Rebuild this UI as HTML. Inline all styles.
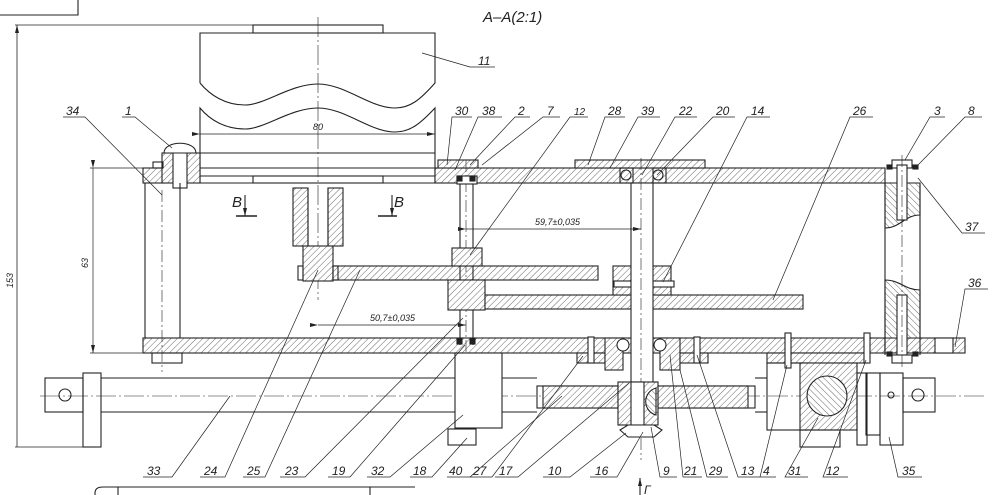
<!DOCTYPE html>
<html><head><meta charset="utf-8"><style>
html,body{margin:0;padding:0;background:#fff;}
svg{display:block;}
text{font-family:"Liberation Sans",sans-serif;font-style:italic;fill:#222;}
</style></head><body>
<svg width="1000" height="495" viewBox="0 0 1000 495" xmlns="http://www.w3.org/2000/svg">
<defs>
<pattern id="h" patternUnits="userSpaceOnUse" width="4.5" height="4.5" patternTransform="rotate(45)">
<rect width="5" height="5" fill="#fff"/><line x1="0" y1="0" x2="0" y2="5" stroke="#444" stroke-width="0.8"/>
</pattern>
<pattern id="h2" patternUnits="userSpaceOnUse" width="4.5" height="4.5" patternTransform="rotate(-45)">
<rect width="5" height="5" fill="#fff"/><line x1="0" y1="0" x2="0" y2="5" stroke="#444" stroke-width="0.8"/>
</pattern>
<marker id="a" markerWidth="8" markerHeight="6" refX="8" refY="3" orient="auto" markerUnits="userSpaceOnUse"><path d="M0,1 L8,3 L0,5 Z" fill="#222"/></marker>
</defs>
<g stroke="#222" stroke-width="1.1" fill="none">
<!-- title box -->
<polyline points="0,15 78,15 78,0"/>
<!-- 153 dimension -->
<line x1="15" y1="25" x2="255" y2="25" stroke-width="0.8"/>
<line x1="17" y1="447" x2="17" y2="25" stroke-width="0.8" marker-end="url(#a)"/>
<line x1="15" y1="447" x2="100" y2="447" stroke-width="0.8"/>
<!-- part 11 -->
<rect x="253" y="25" width="130" height="8"/>
<path d="M200,83 V33 H435 V83 C420,100 410,108 395,108 C370,108 345,84 318,84 C290,84 265,105 245,105 C225,105 210,95 200,83"/>
<path d="M200,183 V108 C210,120 225,129 245,129 C265,129 290,108 318,108 C345,108 370,132 395,132 C410,132 420,124 435,108 V183"/>
<line x1="318" y1="17" x2="318" y2="300" stroke-width="0.6" stroke-dasharray="20,3,2,3"/>
<!-- 80 dim -->
<line x1="200" y1="134" x2="435" y2="134" stroke-width="0.7" marker-start="url(#a)" marker-end="url(#a)"/>
<line x1="200" y1="153" x2="435" y2="153"/>
<line x1="165" y1="168" x2="435" y2="168"/>
<line x1="200" y1="176" x2="435" y2="176"/>
<line x1="200" y1="183" x2="435" y2="183"/>
<rect x="253" y="176" width="130" height="7"/>
<!-- top frame plate hatched -->
<rect x="143" y="168" width="22" height="15" fill="url(#h)"/>
<rect x="162" y="153" width="38" height="30" fill="url(#h)"/>
<rect x="173" y="150" width="14" height="38" fill="#fff"/>
<path d="M164,153 C164,140 196,140 196,153 Z" fill="#fff"/>
<rect x="153" y="162" width="10" height="6"/>
<rect x="435" y="168" width="450" height="15" fill="url(#h)"/>
<rect x="438" y="160" width="40" height="8" fill="url(#h)"/>
<rect x="575" y="160" width="130" height="8" fill="url(#h)"/>
<!-- bottom frame plate -->
<rect x="143" y="338" width="742" height="15" fill="url(#h)"/>
<rect x="885" y="338" width="80" height="15" fill="url(#h)"/>
<rect x="935" y="338" width="18" height="15" fill="#fff"/>
<rect x="152" y="353" width="30" height="10"/>
<!-- 63 dim -->
<line x1="90" y1="168" x2="143" y2="168" stroke-width="0.7"/>
<line x1="90" y1="353" x2="143" y2="353" stroke-width="0.7"/>
<line x1="93" y1="168" x2="93" y2="353" stroke-width="0.7" marker-start="url(#a)" marker-end="url(#a)"/>
<!-- left post -->
<line x1="145" y1="183" x2="145" y2="338"/><line x1="180" y1="183" x2="180" y2="338"/>
<line x1="162" y1="190" x2="162" y2="372" stroke-width="0.6" stroke-dasharray="12,3,2,3"/>
<!-- right post 3 -->
<path d="M885,183 H920 V215 C905,215 900,228 885,228 Z" fill="url(#h2)"/>
<path d="M885,338 H920 V290 C905,290 900,280 885,280 Z" fill="url(#h2)"/>
<line x1="885" y1="183" x2="885" y2="355"/><line x1="920" y1="183" x2="920" y2="355"/>
<rect x="892" y="160" width="20" height="8" fill="#fff"/>
<rect x="897" y="165" width="10" height="55" fill="#fff"/>
<rect x="897" y="295" width="10" height="65" fill="#fff"/>
<rect x="892" y="355" width="20" height="8" fill="#fff"/>
<rect x="887" y="165" width="5" height="4" fill="#222"/><rect x="913" y="165" width="5" height="4" fill="#222"/>
<rect x="887" y="352" width="5" height="4" fill="#222"/><rect x="913" y="352" width="5" height="4" fill="#222"/>
<line x1="902" y1="155" x2="902" y2="370" stroke-width="0.6" stroke-dasharray="12,3,2,3"/>
<!-- part 24 hub -->
<rect x="293" y="188" width="15" height="58" fill="url(#h)"/>
<rect x="328" y="188" width="15" height="58" fill="url(#h)"/>
<rect x="303" y="246" width="30" height="35" fill="url(#h)"/>
<line x1="308" y1="188" x2="308" y2="246"/><line x1="328" y1="188" x2="328" y2="246"/>
<!-- gear 25 -->
<rect x="333" y="266" width="265" height="14" fill="url(#h)"/>
<rect x="298" y="266" width="5" height="14"/><rect x="333" y="266" width="5" height="14"/>
<!-- left shaft -->
<line x1="460" y1="183" x2="460" y2="345"/><line x1="473" y1="183" x2="473" y2="345"/>
<line x1="466" y1="160" x2="466" y2="360" stroke-width="0.6" stroke-dasharray="12,3,2,3"/>
<rect x="452" y="248" width="30" height="18" fill="url(#h)"/>
<rect x="448" y="280" width="37" height="30" fill="url(#h)"/>
<rect x="457" y="176" width="20" height="8" fill="#fff"/>
<rect x="457" y="176" width="5" height="5" fill="#222"/><rect x="470" y="176" width="5" height="5" fill="#222"/>
<rect x="457" y="339" width="5" height="5" fill="#222"/><rect x="470" y="339" width="5" height="5" fill="#222"/>
<!-- gear 26 -->
<rect x="485" y="295" width="318" height="14" fill="url(#h)"/>
<rect x="613" y="266" width="58" height="29" fill="url(#h)"/>
<rect x="614" y="281" width="60" height="6" fill="#fff"/>
<!-- right shaft -->
<rect x="631" y="183" width="22" height="200" fill="#fff"/>
<line x1="641" y1="158" x2="641" y2="460" stroke-width="0.6" stroke-dasharray="12,3,2,3"/>
<circle cx="626" cy="175" r="5"/><circle cx="658" cy="175" r="5"/>
<rect x="620" y="168" width="13" height="15"/><rect x="653" y="168" width="13" height="15"/>
<!-- bottom bearings housing -->
<rect x="577" y="353" width="28" height="10" fill="url(#h)"/>
<rect x="605" y="338" width="18" height="32" fill="url(#h)"/>
<rect x="660" y="338" width="20" height="32" fill="url(#h)"/>
<rect x="680" y="353" width="28" height="10" fill="url(#h)"/>
<circle cx="623" cy="345" r="6" fill="#fff"/><circle cx="660" cy="345" r="6" fill="#fff"/>
<rect x="588" y="337" width="6" height="26" fill="#fff"/><rect x="694" y="337" width="6" height="26" fill="#fff"/>
<!-- rod 33 -->
<rect x="45" y="378" width="38" height="34"/>
<circle cx="65" cy="395" r="6"/>
<rect x="83" y="373" width="18" height="74"/>
<line x1="101" y1="378" x2="455" y2="378"/><line x1="101" y1="412" x2="455" y2="412"/>
<line x1="502" y1="378" x2="537" y2="378"/><line x1="502" y1="412" x2="537" y2="412"/>
<line x1="755" y1="378" x2="767" y2="378"/><line x1="755" y1="412" x2="767" y2="412"/>
<line x1="40" y1="396" x2="985" y2="396" stroke-width="0.6" stroke-dasharray="20,3,2,3"/>
<!-- block 32 -->
<rect x="455" y="353" width="47" height="75" fill="#fff"/>
<rect x="448" y="429" width="28" height="16"/>
<!-- gear 17 -->
<rect x="537" y="386" width="218" height="22"/>
<rect x="543" y="386" width="75" height="22" fill="url(#h)"/>
<rect x="658" y="386" width="90" height="22" fill="url(#h)"/>
<rect x="618" y="382" width="40" height="43" fill="url(#h)"/>
<rect x="631" y="382" width="13" height="43" fill="#fff"/>
<path d="M656,388 A14,14 0 0 0 656,415 Z" fill="url(#h2)"/>
<path d="M620,430 L628,425 H654 L662,430 L654,437 H628 Z" fill="#fff"/>
<!-- block 31 -->
<rect x="767" y="353" width="100" height="10" fill="url(#h)"/>
<rect x="767" y="363" width="40" height="67"/>
<rect x="800" y="363" width="57" height="67" fill="url(#h)"/>
<circle cx="827" cy="396" r="20" fill="url(#h2)"/>
<rect x="800" y="430" width="40" height="17"/>
<rect x="857" y="373" width="10" height="72"/>
<rect x="785" y="333" width="6" height="35" fill="#fff"/>
<rect x="864" y="333" width="6" height="30" fill="#fff"/>
<!-- clamp 35 -->
<rect x="866" y="373" width="14" height="62"/>
<rect x="880" y="373" width="23" height="72"/>
<circle cx="891" cy="395" r="3"/>
<rect x="903" y="378" width="32" height="34"/>
<circle cx="918" cy="395" r="6"/>
<!-- bottom partial -->
<path d="M95,495 V493 Q95,487 103,487 H415" />
<line x1="118" y1="487" x2="118" y2="495"/><line x1="370" y1="487" x2="370" y2="495"/>
<line x1="640" y1="495" x2="640" y2="478" marker-end="url(#a)"/>
<!-- B marks -->
<line x1="236" y1="216" x2="257" y2="216" stroke-width="1.5"/><line x1="245" y1="195" x2="245" y2="216" marker-end="url(#a)"/>
<line x1="378" y1="216" x2="397" y2="216" stroke-width="1.5"/><line x1="392" y1="195" x2="392" y2="216" marker-end="url(#a)"/>
<!-- dims -->
<line x1="466" y1="229" x2="641" y2="229" stroke-width="0.7" marker-start="url(#a)" marker-end="url(#a)"/>
<line x1="318" y1="325" x2="466" y2="325" stroke-width="0.7" marker-start="url(#a)" marker-end="url(#a)"/>
</g>
<g stroke="#222" stroke-width="0.7" fill="none">
<polyline points="63,117 85,117 162,195"/>
<polyline points="122,117 135,117 172,148"/>
<polyline points="472,117 452,117 447,165"/>
<polyline points="502,117 478,117 455,170"/>
<polyline points="530,117 515,117 470,165"/>
<polyline points="560,117 543,117 482,165"/>
<polyline points="588,117 570,117 470,255"/>
<polyline points="625,117 605,117 588,165"/>
<polyline points="660,117 638,117 610,168"/>
<polyline points="697,117 675,117 642,175"/>
<polyline points="735,117 713,117 657,175"/>
<polyline points="770,117 747,117 663,282"/>
<polyline points="873,117 850,117 773,300"/>
<polyline points="945,117 930,117 905,160"/>
<polyline points="982,117 965,117 918,165"/>
<polyline points="985,233 962,233 918,178"/>
<polyline points="988,289 965,289 955,347"/>
<polyline points="495,67 470,67 422,53"/>
<polyline points="143,477 172,477 230,396"/>
<polyline points="200,477 225,477 318,270"/>
<polyline points="243,477 265,477 360,270"/>
<polyline points="280,477 305,477 463,318"/>
<polyline points="328,477 350,477 465,345"/>
<polyline points="367,477 390,477 463,415"/>
<polyline points="410,477 432,477 467,438"/>
<polyline points="447,477 470,477 562,396"/>
<polyline points="470,477 492,477 583,356"/>
<polyline points="495,477 518,477 629,383"/>
<polyline points="543,477 570,477 626,433"/>
<polyline points="590,477 617,477 643,432"/>
<polyline points="677,477 660,477 651,427"/>
<polyline points="702,477 683,477 670,355"/>
<polyline points="728,477 707,477 680,370"/>
<polyline points="760,477 738,477 697,355"/>
<polyline points="776,477 760,477 787,365"/>
<polyline points="808,477 785,477 818,418"/>
<polyline points="848,477 823,477 866,360"/>
<polyline points="922,477 898,477 889,437"/>
</g>
<g font-size="12">
<text x="483" y="22" font-style="normal" font-size="15">A–A(2:1)</text>
<text x="232" y="207" font-style="normal" font-size="15">B</text>
<text x="394" y="207" font-style="normal" font-size="15">B</text>
<text x="313" y="130" font-size="9">80</text>
<text x="535" y="225" font-size="9">59,7±0,035</text>
<text x="370" y="321" font-size="9">50,7±0,035</text>
<text transform="translate(88,268) rotate(-90)" font-size="9">63</text>
<text transform="translate(13,288) rotate(-90)" font-size="9">153</text>
<text x="66" y="115">34</text><text x="125" y="115">1</text>
<text x="455" y="115">30</text><text x="482" y="115">38</text><text x="518" y="115">2</text>
<text x="547" y="115">7</text><text x="574" y="115" font-size="10">12</text>
<text x="608" y="115">28</text><text x="641" y="115">39</text><text x="679" y="115">22</text>
<text x="716" y="115">20</text><text x="751" y="115">14</text><text x="853" y="115">26</text>
<text x="934" y="115">3</text><text x="968" y="115">8</text>
<text x="965" y="231">37</text><text x="968" y="287">36</text>
<text x="478" y="65">11</text>
<text x="147" y="475">33</text><text x="204" y="475">24</text><text x="247" y="475">25</text>
<text x="285" y="475">23</text><text x="332" y="475">19</text><text x="371" y="475">32</text>
<text x="413" y="475">18</text><text x="449" y="475">40</text><text x="473" y="475">27</text>
<text x="499" y="475">17</text><text x="548" y="475">10</text><text x="595" y="475">16</text>
<text x="663" y="475">9</text><text x="684" y="475">21</text><text x="709" y="475">29</text>
<text x="741" y="475">13</text><text x="763" y="475">4</text><text x="788" y="475">31</text>
<text x="826" y="475">12</text><text x="902" y="475">35</text>
<text x="644" y="494" font-style="normal">Г</text>
</g>
</svg>
</body></html>
